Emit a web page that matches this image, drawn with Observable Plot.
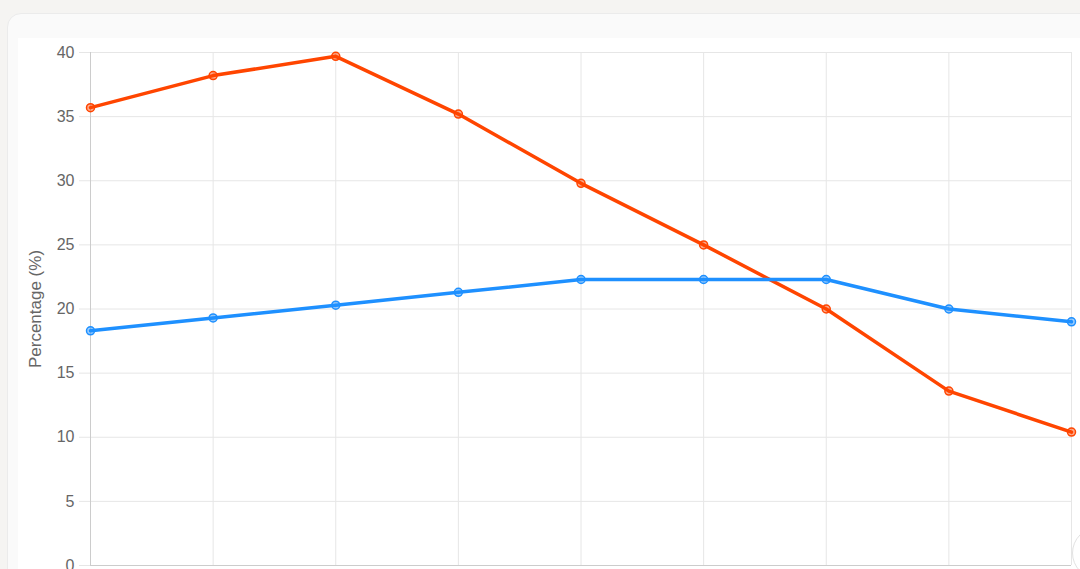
<!DOCTYPE html>
<html>
<head>
<meta charset="utf-8">
<script src="https://cdn.jsdelivr.net/npm/d3@7"></script>
<script src="https://cdn.jsdelivr.net/npm/@observablehq/plot@0.6"></script>
<style>
  html, body { margin: 0; padding: 0; background: #f5f4f2; overflow: hidden; width: 1080px; height: 569px; }
  #card { position: absolute; left: 7px; top: 13px; width: 1200px; height: 700px; background: #fafafa; border: 1px solid #ebebeb; border-radius: 14px; }
  #inner { position: absolute; left: 18px; top: 38px; width: 1200px; height: 700px; background: #ffffff; }
  #fab { position: absolute; left: 1072px; top: 527px; width: 50px; height: 50px; border-radius: 50%; background: #fff; border: 1px solid #e2e2e2; }
  #inner svg { display: block; }
</style>
</head>
<body>
<div id="card"></div>
<div id="inner"></div>
<div id="fab"></div>
<script>
const categories = ["1", "2", "3", "4", "5", "6", "7", "8", "9"];
const seriesOrange = [35.7, 38.2, 39.7, 35.2, 29.8, 25.0, 20.0, 13.6, 10.4];
const seriesBlue = [18.3, 19.3, 20.3, 21.3, 22.3, 22.3, 22.3, 20.0, 19.0];
const yTicks = [0, 5, 10, 15, 20, 25, 30, 35, 40];

const orange = "#ff4500";
const blue = "#1e90ff";

const rows = [];
categories.forEach((c, i) => {
  rows.push({cat: c, value: seriesOrange[i], series: "A"});
  rows.push({cat: c, value: seriesBlue[i], series: "B"});
});
const dataA = rows.filter(d => d.series === "A");
const dataB = rows.filter(d => d.series === "B");

const chart = Plot.plot({
  width: 1080,
  height: 547,
  marginLeft: 72,
  marginRight: 27,
  marginTop: 14,
  marginBottom: 20,
  style: { fontFamily: "'Liberation Sans', Arial, Helvetica, sans-serif", fontSize: "16px", color: "#666", background: "transparent" },
  x: { type: "point", domain: categories, range: [72, 1053], padding: 0, round: false, axis: null },
  y: { domain: [0, 40], range: [527, 14] },
  marks: [
    Plot.gridY(yTicks, { stroke: "#e6e6e6", strokeOpacity: 1, strokeWidth: 1 }),
    Plot.gridX(categories, { stroke: "#e6e6e6", strokeOpacity: 1, strokeWidth: 1 }),
    Plot.axisY(yTicks, {
      tickSize: 11, tickPadding: 5, stroke: "#e6e6e6", fill: "#666", fontSize: 16,
      label: "Percentage (%)", labelAnchor: "center", labelArrow: "none", labelOffset: 62
    }),
    Plot.ruleX([categories[0]], { stroke: "#cccccc", strokeWidth: 1 }),
    Plot.ruleY([0], { stroke: "#cccccc", strokeWidth: 1 }),
    Plot.line(dataA, { x: "cat", y: "value", stroke: orange, strokeWidth: 3.5 }),
    Plot.line(dataB, { x: "cat", y: "value", stroke: blue, strokeWidth: 3.5 }),
    Plot.dot(dataA, { x: "cat", y: "value", r: 4, fill: orange, fillOpacity: 0.45, stroke: orange, strokeWidth: 1.5 }),
    Plot.dot(dataB, { x: "cat", y: "value", r: 4, fill: blue, fillOpacity: 0.45, stroke: blue, strokeWidth: 1.5 })
  ]
});
chart.querySelectorAll("text").forEach(t => {
  if (t.textContent === "Percentage (%)") t.setAttribute("font-size", "17");
});
document.getElementById("inner").appendChild(chart);
</script>
</body>
</html>
